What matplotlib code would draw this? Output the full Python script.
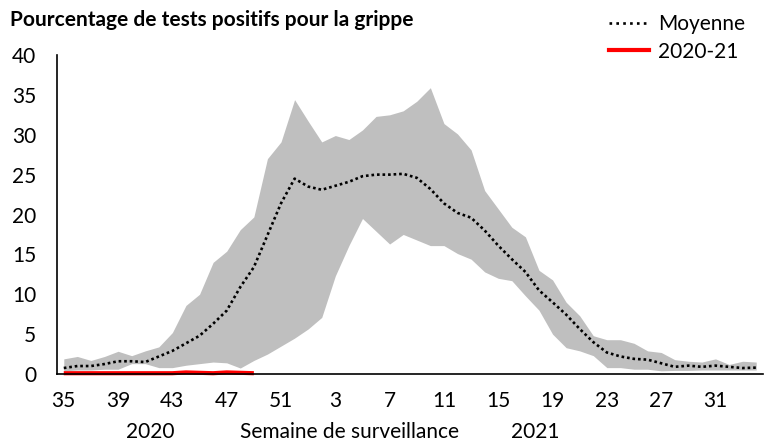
import matplotlib
matplotlib.use("Agg")
import matplotlib.pyplot as plt
from matplotlib.lines import Line2D

plt.rcParams['font.family'] = ['Lato', 'DejaVu Sans']

# semaines de surveillance 35/2020 -> 34/2021
weeks = list(range(35, 53)) + list(range(1, 35))

# enveloppe max des saisons precedentes
upper = [1.9, 2.2, 1.7, 2.2, 2.85, 2.3, 2.9, 3.4, 5.2, 8.6, 10.0, 14.0, 15.4, 18.1, 19.7, 27.0, 29.1, 34.4,
         31.7, 29.1, 29.9, 29.4, 30.6, 32.3, 32.5, 33.0, 34.2, 35.9, 31.4, 30.1, 28.1, 23.0, 20.7,
         18.4, 17.2, 13.0, 11.8, 9.0, 7.3, 4.8, 4.3, 4.3, 3.85, 2.9, 2.7, 1.8, 1.6, 1.5, 1.9, 1.2, 1.6, 1.5]
# enveloppe min
lower = [0.4, 0.5, 0.5, 0.6, 0.6, 1.3, 1.3, 0.8, 0.8, 1.1, 1.3, 1.5, 1.4, 0.75, 1.7, 2.5, 3.5, 4.5,
         5.65, 7.1, 12.3, 16.1, 19.5, 17.9, 16.3, 17.5, 16.8, 16.1, 16.1, 15.1, 14.4, 12.8, 12.0,
         11.7, 9.8, 8.0, 5.0, 3.3, 2.9, 2.3, 0.8, 0.8, 0.6, 0.6, 0.4, 0.45, 0.45, 0.5, 0.5, 0.5, 0.5, 0.5]
# moyenne
mean = [0.75, 1.0, 1.0, 1.25, 1.6, 1.6, 1.5, 2.2, 2.9, 3.85, 4.8, 6.3, 7.95, 10.9, 13.4, 17.4, 21.4, 24.5,
        23.5, 23.1, 23.6, 24.1, 24.8, 25.0, 25.0, 25.1, 24.6, 23.2, 21.4, 20.2, 19.6, 18.0, 16.1,
        14.4, 12.8, 10.5, 9.0, 7.45, 5.65, 4.0, 2.7, 2.2, 1.9, 1.8, 1.35, 0.9, 1.05, 0.9, 1.05, 0.9, 0.75, 0.8]
# saison 2020-21 (semaines 35 a 49)
current = [0.1, 0.1, 0.1, 0.1, 0.1, 0.1, 0.1, 0.1, 0.1, 0.2, 0.15, 0.1, 0.2, 0.15, 0.1]

x = list(range(len(weeks)))
fs = 15

fig = plt.figure(figsize=(7.68, 4.41), dpi=100)
ax = fig.add_axes([0.0742, 0.1519, 0.9193, 0.7234])

ax.fill_between(x, lower, upper, color='#BFBFBF', linewidth=0)
ax.plot(x, mean, color='black', linewidth=1.9, linestyle=(0, (1, 1.1)))
ax.plot(x[:len(current)], current, color='#FF0000', linewidth=3, solid_capstyle='butt', clip_on=False)

ax.set_xlim(-0.5, len(weeks) - 0.5)
ax.set_ylim(0, 40)
ax.set_yticks(range(0, 41, 5))
ax.set_xticks(x[::4])
ax.set_xticklabels([str(w) for w in weeks[::4]])
ax.tick_params(axis='both', length=0, labelsize=fs, colors='black')
ax.tick_params(axis='x', pad=12)
ax.tick_params(axis='y', pad=15)

for s in ['top', 'right']:
    ax.spines[s].set_visible(False)
for s in ['left', 'bottom']:
    ax.spines[s].set_linewidth(1.2)
    ax.spines[s].set_color('black')

fig.text(10 / 768, 1 - 20 / 441, 'Pourcentage de tests positifs pour la grippe',
         fontsize=fs, fontweight='bold', va='center', ha='left')

fig.text(150 / 768, 1 - 432 / 441, '2020', fontsize=fs, ha='center', va='center')
fig.text(350 / 768, 1 - 432 / 441, 'Semaine de surveillance', fontsize=fs, ha='center', va='center')
fig.text(535 / 768, 1 - 432 / 441, '2021', fontsize=fs, ha='center', va='center')

handles = [Line2D([], [], color='black', linewidth=1.9, linestyle=(0, (1, 1.6))),
           Line2D([], [], color='#FF0000', linewidth=3)]
fig.legend(handles, ['Moyenne', '2020-21'], loc='upper left', bbox_to_anchor=(603 / 768, 1 - 8 / 441),
           frameon=False, fontsize=fs, handlelength=1.9, handletextpad=0.43, labelspacing=0.35,
           borderaxespad=0, borderpad=0.3)

fig.savefig('out.png', dpi=100)
